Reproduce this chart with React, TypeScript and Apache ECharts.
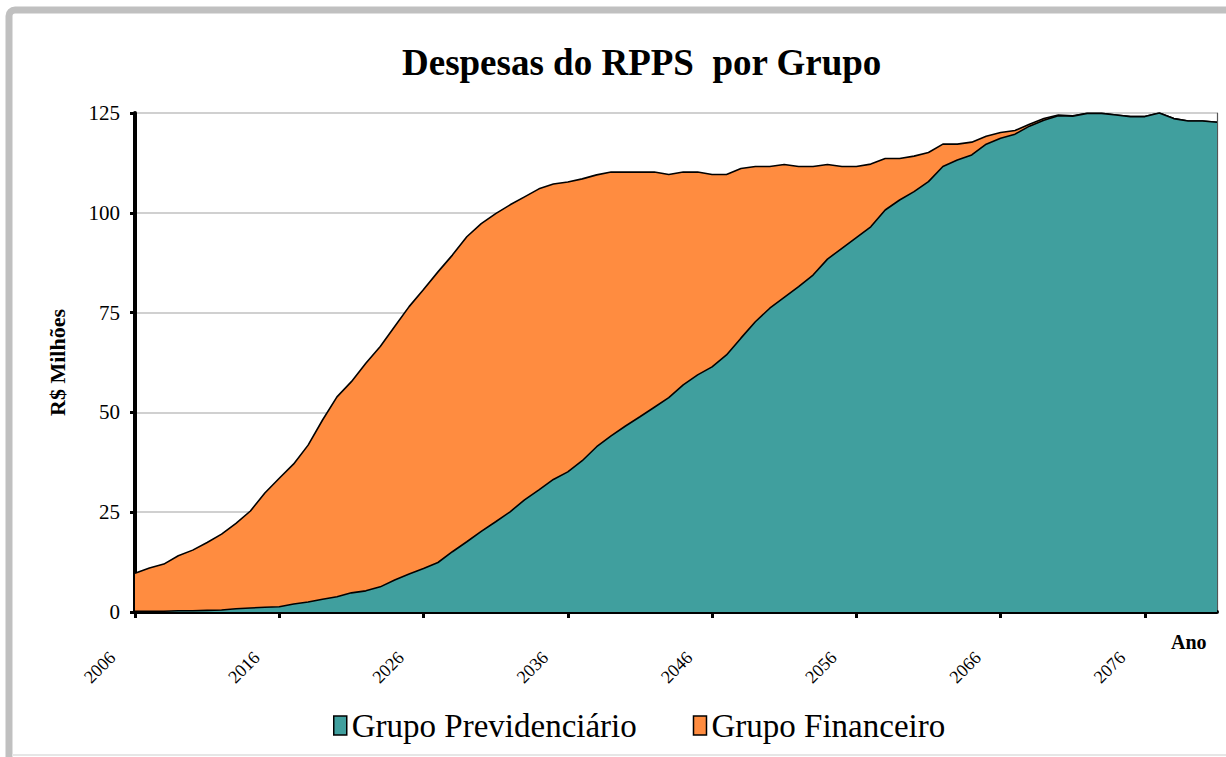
import React, { useEffect, useRef } from "react";
import * as echarts from "echarts";

const years: string[] = [];
for (let y = 2006; y <= 2081; y++) years.push(String(y));

const previdenciario = [
  0.2, 0.2, 0.2, 0.3, 0.3, 0.4, 0.5, 0.8, 1.0, 1.2,
  1.3, 2.0, 2.5, 3.2, 3.8, 4.8, 5.3, 6.3, 8.0, 9.5,
  10.9, 12.4, 15.1, 17.6, 20.2, 22.6, 25.1, 28.1, 30.6, 33.2,
  35.1, 37.9, 41.4, 44.1, 46.6, 48.9, 51.3, 53.7, 56.9, 59.4,
  61.4, 64.4, 68.6, 72.7, 76.1, 78.8, 81.5, 84.4, 88.4, 91.1,
  93.8, 96.5, 100.7, 103.2, 105.3, 107.8, 111.6, 113.2, 114.5, 117.2,
  118.7, 119.7, 121.7, 123.2, 124.3, 124.2, 124.9, 124.9, 124.5, 124.1,
  124.1, 125.0, 123.6, 123.0, 123.0, 122.7,
];

const financeiro = [
  9.5, 10.8, 11.8, 13.8, 15.2, 17.0, 19.0, 21.4, 24.3, 28.6,
  32.2, 35.1, 39.3, 44.9, 50.1, 52.9, 57.0, 60.2, 63.5, 67.0,
  69.9, 72.8, 74.3, 76.4, 77.1, 77.2, 76.9, 75.9, 75.4, 74.0,
  72.6, 70.6, 68.1, 66.1, 63.6, 61.3, 58.9, 55.9, 53.3, 50.8,
  48.2, 45.2, 42.5, 38.9, 35.5, 33.3, 30.1, 27.2, 23.7, 20.5,
  17.8, 15.7, 12.9, 10.4, 8.9, 7.3, 5.6, 4.0, 3.2, 2.0,
  1.4, 0.9, 0.5, 0.4, 0.2, 0.1, 0, 0, 0, 0,
  0, 0, 0, 0, 0, 0,
];

const yTicks = { min: 0, max: 125, interval: 25 };

const TEAL = "#409F9E";
const ORANGE = "#FF8C40";
const FONT = "Liberation Serif";

export default function App() {
  const ref = useRef<HTMLDivElement>(null);

  useEffect(() => {
    if (!ref.current) return;
    const chart = echarts.init(ref.current, undefined, { renderer: "svg" });
    chart.setOption({
      animation: false,
      backgroundColor: "#fff",
      title: {
        text: "Despesas do RPPS  por Grupo",
        left: 397,
        top: 39,
        textStyle: { fontFamily: FONT, fontSize: 37, fontWeight: "bold", color: "#000" },
      },
      legend: {
        left: 328,
        top: 704,
        icon: "rect",
        itemWidth: 13,
        itemHeight: 19,
        itemGap: 56,
        textStyle: { fontFamily: FONT, fontSize: 33, color: "#000" },
        data: [
          { name: "Grupo Previdenciário", itemStyle: { color: TEAL, borderColor: "#000", borderWidth: 1.5 } },
          { name: "Grupo Financeiro", itemStyle: { color: ORANGE, borderColor: "#000", borderWidth: 1.5 } },
        ],
      },
      grid: { left: 135, right: 9, top: 113, bottom: 145 },
      xAxis: {
        type: "category",
        data: years,
        boundaryGap: false,
        axisLine: { show: true, lineStyle: { color: "#000", width: 4 } },
        axisTick: { show: true, interval: 9, length: 6, lineStyle: { color: "#000", width: 3 } },
        axisLabel: {
          interval: 9,
          rotate: 45,
          fontFamily: FONT,
          fontSize: 18,
          color: "#000",
          margin: 20,
          padding: [0, 32, 0, 0],
        },
        splitLine: { show: false },
      },
      yAxis: [
        {
          type: "value",
          min: yTicks.min,
          max: yTicks.max,
          interval: yTicks.interval,
          name: "R$ Milhões",
          nameLocation: "middle",
          nameRotate: 90,
          nameGap: 67,
          nameTextStyle: { fontFamily: FONT, fontSize: 22, fontWeight: "bold", color: "#000" },
          axisLine: { show: true, lineStyle: { color: "#000", width: 4 } },
          axisTick: { show: true, length: 5, lineStyle: { color: "#000", width: 3 } },
          axisLabel: { fontFamily: FONT, fontSize: 21, color: "#000", margin: 15 },
          splitLine: { show: true, lineStyle: { color: "#c0c0c0", width: 1.5 } },
        },
        {
          type: "value",
          position: "right",
          min: yTicks.min,
          max: yTicks.max,
          interval: yTicks.interval,
          axisLine: { show: true, lineStyle: { color: "#555", width: 1.2 } },
          axisTick: { show: false },
          axisLabel: { show: false },
          splitLine: { show: false },
        },
      ],
      series: [
        {
          name: "Grupo Previdenciário",
          type: "line",
          stack: "total",
          data: previdenciario,
          symbol: "none",
          z: 3,
          lineStyle: { color: "#000", width: 1.6 },
          itemStyle: { color: TEAL },
          areaStyle: { color: TEAL, opacity: 1 },
        },
        {
          name: "Grupo Financeiro",
          type: "line",
          stack: "total",
          data: financeiro,
          symbol: "none",
          z: 2,
          lineStyle: { color: "#000", width: 1.6 },
          itemStyle: { color: ORANGE },
          areaStyle: { color: ORANGE, opacity: 1 },
        },
      ],
      graphic: [
        {
          type: "rect",
          silent: true,
          shape: { x: 9, y: 10, width: 1400, height: 1000, r: 6 },
          style: { fill: "none", stroke: "#c0c0c0", lineWidth: 7 },
        },
        {
          type: "line",
          silent: true,
          shape: { x1: 12, y1: 755, x2: 1226, y2: 755 },
          style: { stroke: "#e6e6e6", lineWidth: 2 },
        },
        {
          type: "text",
          left: 1171,
          top: 632,
          style: { text: "Ano", fontFamily: FONT, fontSize: 20, fontWeight: "bold", fill: "#000" },
        },
      ],
    });
    return () => chart.dispose();
  }, []);

  return (
    <div
      ref={ref}
      style={{ position: "fixed", left: 0, top: 0, width: 1226, height: 757, background: "#fff" }}
    />
  );
}
